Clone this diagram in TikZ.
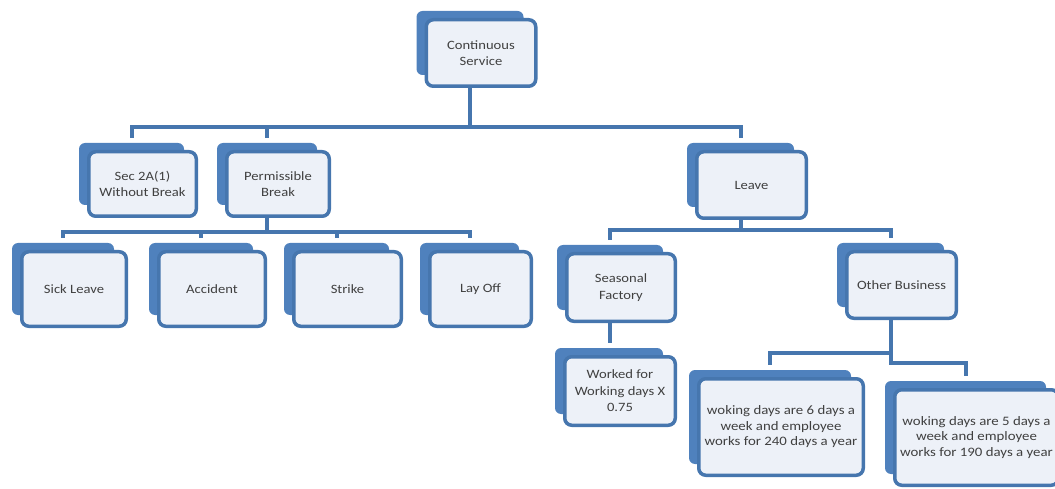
\documentclass[tikz,border=0pt]{standalone}
\usepackage{fontspec}
\setmainfont[FakeStretch=1.15]{Carlito}
\usepackage{xcolor}
\usepackage{tikz}
\usetikzlibrary{positioning}
\definecolor{BoxBlue}{HTML}{4F81BD}
\definecolor{EdgeBlue}{HTML}{4676AE}
\definecolor{FaceBlue}{HTML}{EDF1F8}
\definecolor{InkGrey}{HTML}{404040}

\begin{document}
\begin{tikzpicture}[x=1pt, y=-1pt,
            backbox/.style={fill=BoxBlue, rounded corners=6pt, inner sep=0pt},
            frontbox/.style={draw=EdgeBlue, line width=3.5pt, rounded corners=7pt, fill=FaceBlue, inner sep=1pt, align=center, text=InkGrey, font=\fontsize{12.7}{16.5}\selectfont},
            smalltext/.style={font=\fontsize{12.9}{15.5}\selectfont},
            link/.style={draw=EdgeBlue, line width=4pt, shorten >=5pt}
        ]
            \useasboundingbox (0,0) rectangle (1055,489);
            \clip (0,0) rectangle (1055,489);

            % back plates
            \node[backbox, minimum width=107, minimum height=64] at (470, 43) (cont-bk) {};
            \node[backbox, minimum width=105, minimum height=62] at (131.5, 174) (sec-bk) {};
            \node[backbox, minimum width=100, minimum height=62] at (267, 174) (perm-bk) {};
            \node[backbox, minimum width=107, minimum height=64] at (740.5, 175) (leave-bk) {};
            \node[backbox, minimum width=102, minimum height=72] at (63, 279) (sick-bk) {};
            \node[backbox, minimum width=104, minimum height=72] at (201, 279) (accident-bk) {};
            \node[backbox, minimum width=105, minimum height=72] at (336.5, 279) (strike-bk) {};
            \node[backbox, minimum width=99, minimum height=72] at (469.5, 279) (layoff-bk) {};
            \node[backbox, minimum width=106, minimum height=65] at (610, 277.5) (seasonal-bk) {};
            \node[backbox, minimum width=107, minimum height=64] at (890.5, 275) (other-bk) {};
            \node[backbox, minimum width=108, minimum height=66] at (609, 381) (worked-bk) {};
            \node[backbox, minimum width=162, minimum height=94] at (770, 417) (sixdays-bk) {};
            \node[backbox, minimum width=161, minimum height=93] at (965.5, 427.5) (fivedays-bk) {};

            % front boxes
            \node[frontbox, minimum width=109.5, minimum height=66.5] at (481, 53) (cont) {Continuous\\Service};
            \node[frontbox, minimum width=107.5, minimum height=64.5] at (142.5, 184) (sec) {Sec 2A(1)\\Without Break};
            \node[frontbox, minimum width=102.5, minimum height=64.5] at (278, 184) (perm) {Permissible\\Break};
            \node[frontbox, minimum width=109.5, minimum height=66.5] at (751.5, 185) (leave) {Leave};
            \node[frontbox, minimum width=104.5, minimum height=74.5] at (74, 289) (sick) {Sick Leave};
            \node[frontbox, minimum width=106.5, minimum height=74.5] at (212, 289) (accident) {Accident};
            \node[frontbox, minimum width=107.5, minimum height=74.5] at (347.5, 289) (strike) {Strike};
            \node[frontbox, minimum width=101.5, minimum height=74.5] at (480.5, 289) (layoff) {Lay Off};
            \node[frontbox, minimum width=108.5, minimum height=67.5] at (621, 287.5) (seasonal) {Seasonal\\Factory};
            \node[frontbox, minimum width=109.5, minimum height=66.5] at (901.5, 285) (other) {Other Business};
            \node[frontbox, minimum width=110.5, minimum height=68.5] at (620, 391) (worked) {Worked for\\Working days X\\0.75};
            \node[frontbox, smalltext, minimum width=164.5, minimum height=96.5] at (781, 427) (sixdays) {woking days are 6 days a\\week and employee\\works for 240 days a year};
            \node[frontbox, smalltext, minimum width=163.5, minimum height=95.5] at (976.5, 437.5) (fivedays) {woking days are 5 days a\\week and employee\\works for 190 days a year};

            % buses
            \coordinate (topbus) at (0, 127);
            \coordinate (permbus) at (0, 232);
            \coordinate (leavebus) at (0, 230);
            \coordinate (sixbus) at (0, 353);
            \coordinate (fivebus) at (0, 363);

            \foreach \kid in {sec, perm, leave}
                \draw[link] (cont-bk |- cont.south) |- (topbus -| \kid-bk) -- (\kid-bk.north);
            \foreach \kid in {sick, accident, strike, layoff}
                \draw[link] (perm-bk |- perm.south) |- (permbus -| \kid-bk) -- (\kid-bk.north);
            \foreach \kid in {seasonal, other}
                \draw[link] (leave-bk |- leave.south) |- (leavebus -| \kid-bk) -- (\kid-bk.north);
            \draw[link] (seasonal-bk |- seasonal.south) -- (seasonal-bk |- worked-bk.north);
            \draw[link] (other-bk |- other.south) |- (sixbus -| sixdays-bk) -- (sixdays-bk.north);
            \draw[link] (other-bk |- other.south) |- (fivebus -| fivedays-bk) -- (fivedays-bk.north);

        \end{tikzpicture}
\end{document}
